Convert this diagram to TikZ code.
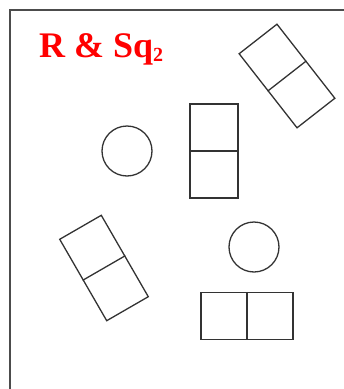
\documentclass[tikz,border=0pt]{standalone}
\usepackage{fontspec}
\setmainfont{Liberation Serif}
\usepackage{tikz}

\tikzset{
  shape line/.style={draw=black!80,line width=1.3pt},
  ball/.style={shape line,circle,minimum size=50pt,inner sep=0pt},
  domino/.style={shape line,rectangle,minimum width=48pt,minimum height=94pt,inner sep=0pt}
}

\begin{document}
\begin{tikzpicture}[x=1pt,y=1pt]
\useasboundingbox (0,0) rectangle (344,-389);

% Frame
\draw[black!70,line width=2.4pt] (10,-389)--(10,-10)--(344,-10);

% Title
\node[anchor=base west,inner sep=0pt,text=red,font=\bfseries\fontsize{36}{40}\selectfont] (title) at (39,-57)
{R \& Sq\raisebox{-4pt}{\fontsize{20}{20}\selectfont 2}};

% Circles
\node[ball] (circA) at (127,-151){};
\node[ball] (circB) at (254,-247){};

% Upright domino
\node[domino] (domA) at (214,-151){};
\draw[shape line] (domA.west)--(domA.east);

% Tilted domino, top right
\node[domino,rotate=38] (domB) at (287,-76){};
\draw[shape line] (domB.west)--(domB.east);

% Tilted domino, bottom left
\node[domino,rotate=30] (domC) at (104,-268){};
\draw[shape line] (domC.west)--(domC.east);

% Lying domino
\node[domino,minimum width=92pt,minimum height=47pt] (domD) at (247,-316){};
\draw[shape line] (domD.north)--(domD.south);

\end{tikzpicture}
\end{document}
